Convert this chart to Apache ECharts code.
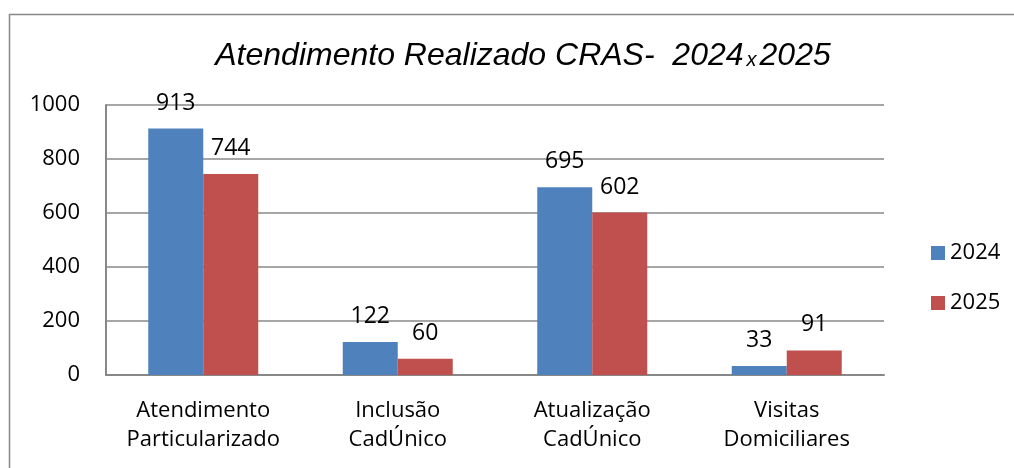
<!DOCTYPE html>
<html><head><meta charset="utf-8">
<script src="https://cdn.jsdelivr.net/npm/echarts@6/dist/echarts.min.js"></script>
<style>html,body{margin:0;padding:0;background:#fff}#c{width:1014px;height:468px}</style>
</head><body><div id="c"></div>
<script>
const categories = ['Atendimento\nParticularizado', 'Inclusão\nCadÚnico', 'Atualização\nCadÚnico', 'Visitas\nDomiciliares'];
const values2024 = [913, 122, 695, 33];
const values2025 = [744, 60, 602, 91];
const seriesNames = ['2024', '2025'];
const yTicks = [0, 200, 400, 600, 800, 1000];

const font = '"Open Sans", Lato, sans-serif';
const tfont = '"Liberation Sans", Arial, sans-serif';
const chart = echarts.init(document.getElementById('c'));
chart.setOption({
  animation: false,
  title: {
    text: '{a|Atendimento Realizado CRAS-  2024}{b|x}{a|2025}',
    left: 518, top: 35, textAlign: 'center',
    textStyle: { rich: {
      a: { fontFamily: tfont, fontStyle: 'italic', fontWeight: 'normal', fontSize: 32, color: '#000' },
      b: { fontFamily: tfont, fontStyle: 'italic', fontWeight: 'normal', fontSize: 20, color: '#000', padding: [8, 3, 0, 3] }
    } }
  },
  graphic: [{ type: 'rect', shape: { x: 9.5, y: 14.5, width: 1100, height: 600 }, style: { fill: 'none', stroke: '#888', lineWidth: 1.5 }, silent: true }],
  legend: {
    orient: 'vertical', left: 926, top: 237, itemGap: 28, itemWidth: 14, itemHeight: 14,
    icon: 'rect',
    textStyle: { fontFamily: font, fontSize: 22, color: '#000' },
    data: seriesNames
  },
  grid: { left: 106, right: 130, top: 105, bottom: 93 },
  xAxis: {
    type: 'category', data: categories,
    axisLine: { lineStyle: { color: '#888', width: 2 } },
    axisTick: { show: false },
    axisLabel: { interval: 0, fontFamily: font, fontSize: 22, color: '#000', lineHeight: 29, margin: 21 }
  },
  yAxis: {
    type: 'value', min: 0, max: 1000, interval: 200,
    axisLine: { show: true, lineStyle: { color: '#888', width: 2 } },
    axisTick: { show: false },
    splitLine: { lineStyle: { color: '#888', width: 1.5 } },
    axisLabel: { fontFamily: font, fontSize: 22, color: '#000', margin: 26,
      formatter: v => yTicks.includes(v) ? String(v) : '' }
  },
  series: [
    { name: seriesNames[0], type: 'bar', data: values2024, barWidth: 55, barGap: '0%',
      itemStyle: { color: '#4f81bd' },
      label: { show: true, position: 'top', distance: 14, fontFamily: font, fontSize: 23, color: '#000' } },
    { name: seriesNames[1], type: 'bar', data: values2025, barWidth: 55, barGap: '0%',
      itemStyle: { color: '#c0504d' },
      label: { show: true, position: 'top', distance: 14, fontFamily: font, fontSize: 23, color: '#000' } }
  ]
});
</script></body></html>
